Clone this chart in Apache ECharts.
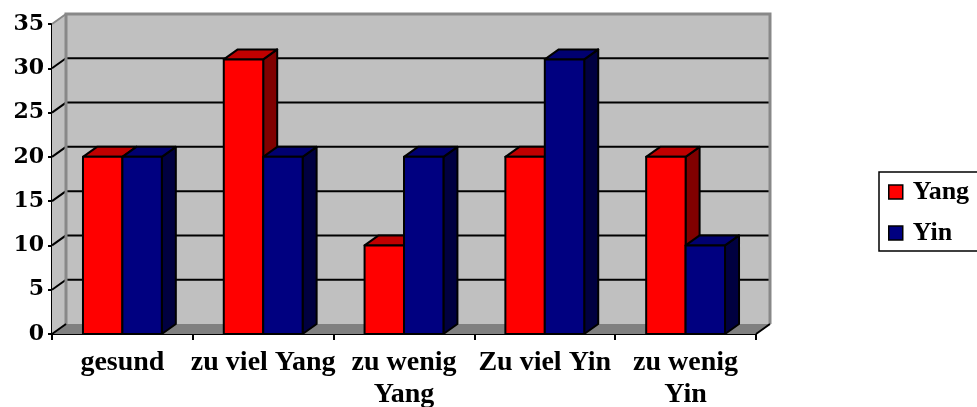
<!DOCTYPE html>
<html>
<head>
<meta charset="utf-8">
<script src="https://cdn.jsdelivr.net/npm/echarts@6/dist/echarts.min.js"></script>
<style>
  html, body { margin: 0; padding: 0; background: #fff; }
  #chart { width: 977px; height: 407px; }
</style>
</head>
<body>
<div id="chart"></div>
<script>
const categories = ["gesund", "zu viel Yang", "zu wenig\nYang", "Zu viel Yin", "zu wenig\nYin"];
const yangValues = [20, 31, 10, 20, 20];
const yinValues = [20, 20, 20, 31, 10];
const yMax = 35;
const yStep = 5;

// 3d depth offset of the Excel style chart
const DX = 14;
const DY = -10;

const faceColors = {
  Yang: { front: "#ff0000", top: "#c00000", side: "#800000" },
  Yin: { front: "#000080", top: "#000070", side: "#000040" },
};

var chart = echarts.init(document.getElementById("chart"));

const renderWalls = (params, api) => {
  const cs = params.coordSys;
  const x0 = cs.x, x1 = cs.x + cs.width;
  const yTop = cs.y, yBot = cs.y + cs.height;
  const children = [
    // back wall
    { type: "rect", shape: { x: x0 + DX, y: yTop + DY, width: cs.width, height: cs.height },
      style: { fill: "#c0c0c0", stroke: null } },
    // side wall
    { type: "polygon", shape: { points: [[x0, yTop], [x0 + DX, yTop + DY], [x0 + DX, yBot + DY], [x0, yBot]] },
      style: { fill: "#c0c0c0", stroke: null } },
    // floor
    { type: "polygon", shape: { points: [[x0, yBot], [x0 + DX, yBot + DY], [x1 + DX, yBot + DY], [x1, yBot]] },
      style: { fill: "#808080", stroke: null } },
  ];
  for (let v = yStep; v < yMax; v += yStep) {
    const y = api.coord([0, v])[1];
    children.push({ type: "line", shape: { x1: x0 + DX, y1: y + DY, x2: x1 + DX, y2: y + DY },
      style: { stroke: "#000", lineWidth: 2 } });
    children.push({ type: "line", shape: { x1: x0, y1: y, x2: x0 + DX, y2: y + DY },
      style: { stroke: "#000", lineWidth: 2 } });
  }
  // wall edges
  children.push({ type: "polyline", shape: { points: [[x0 + DX, yBot + DY], [x0 + DX, yTop + DY], [x1 + DX, yTop + DY], [x1 + DX, yBot + DY]] },
    style: { stroke: "#888", lineWidth: 3, fill: null } });
  children.push({ type: "line", shape: { x1: x0, y1: yTop, x2: x0 + DX, y2: yTop + DY },
    style: { stroke: "#888", lineWidth: 2 } });
  children.push({ type: "line", shape: { x1: x0, y1: yBot, x2: x0 + DX, y2: yBot + DY },
    style: { stroke: "#000", lineWidth: 2 } });
  children.push({ type: "line", shape: { x1: x1, y1: yBot, x2: x1 + DX, y2: yBot + DY },
    style: { stroke: "#000", lineWidth: 2 } });
  return { type: "group", children: children };
};

const makeBarRenderer = (name, idx) => (params, api) => {
  const i = api.value(0);
  const v = api.value(1);
  const base = api.coord([i, 0]);
  const top = api.coord([i, v]);
  const catW = api.size([1, 0])[0];
  const bw = catW * 0.28;
  const x0 = base[0] - bw + idx * bw;
  const x1 = x0 + bw;
  const yt = top[1], yb = base[1];
  const c = faceColors[name];
  const st = { stroke: "#000", lineWidth: 2, lineJoin: "round" };
  return {
    type: "group",
    children: [
      { type: "polygon", shape: { points: [[x1, yt], [x1 + DX, yt + DY], [x1 + DX, yb + DY], [x1, yb]] },
        style: Object.assign({ fill: c.side }, st) },
      { type: "polygon", shape: { points: [[x0, yt], [x0 + DX, yt + DY], [x1 + DX, yt + DY], [x1, yt]] },
        style: Object.assign({ fill: c.top }, st) },
      { type: "rect", shape: { x: x0, y: yt, width: bw, height: yb - yt },
        style: Object.assign({ fill: c.front }, st) },
    ],
  };
};

var option = {
  animation: false,
  color: ["#ff0000", "#000080"],
  grid: { left: 52, right: 221, top: 24, bottom: 73, containLabel: false, outerBoundsMode: "none" },
  legend: {
    data: ["Yang", "Yin"],
    orient: "vertical",
    left: 879,
    top: 172,
    padding: [7, 10, 5, 9],
    itemGap: 15,
    itemWidth: 14,
    itemHeight: 14,
    icon: "rect",
    borderColor: "#000",
    borderWidth: 1.5,
    itemStyle: { borderColor: "#000", borderWidth: 1.5 },
    textStyle: {
      fontFamily: "Liberation Serif",
      fontWeight: "bold",
      fontSize: 26,
      lineHeight: 26,
      color: "#000",
      padding: [0, 0, 0, 5],
    },
  },
  xAxis: {
    type: "category",
    data: categories,
    axisLine: { lineStyle: { color: "#000", width: 2 } },
    axisTick: { show: true, length: 6, interval: 0, lineStyle: { color: "#000", width: 2 } },
    axisLabel: {
      interval: 0,
      margin: 13,
      fontFamily: "Liberation Serif",
      fontWeight: "bold",
      fontSize: 28,
      lineHeight: 32,
      color: "#000",
    },
    splitLine: { show: false },
  },
  yAxis: {
    type: "value",
    min: 0,
    max: yMax,
    interval: yStep,
    axisLine: { show: true, lineStyle: { color: "#000", width: 2 } },
    axisTick: { show: true, length: 4, lineStyle: { color: "#000", width: 2 } },
    axisLabel: {
      margin: 8,
      fontFamily: "DejaVu Serif",
      fontWeight: "bold",
      fontSize: 22,
      color: "#000",
    },
    splitLine: { show: false },
  },
  series: [
    {
      name: "walls",
      type: "custom",
      clip: false,
      silent: true,
      z: 1,
      renderItem: renderWalls,
      data: [[0, 0]],
    },
    {
      name: "Yang",
      type: "custom",
      clip: false,
      z: 2,
      itemStyle: { color: "#ff0000" },
      renderItem: makeBarRenderer("Yang", 0),
      encode: { x: 0, y: 1 },
      data: yangValues.map((v, i) => [i, v]),
    },
    {
      name: "Yin",
      type: "custom",
      clip: false,
      z: 3,
      itemStyle: { color: "#000080" },
      renderItem: makeBarRenderer("Yin", 1),
      encode: { x: 0, y: 1 },
      data: yinValues.map((v, i) => [i, v]),
    },
  ],
};

option && chart.setOption(option);
</script>
</body>
</html>
